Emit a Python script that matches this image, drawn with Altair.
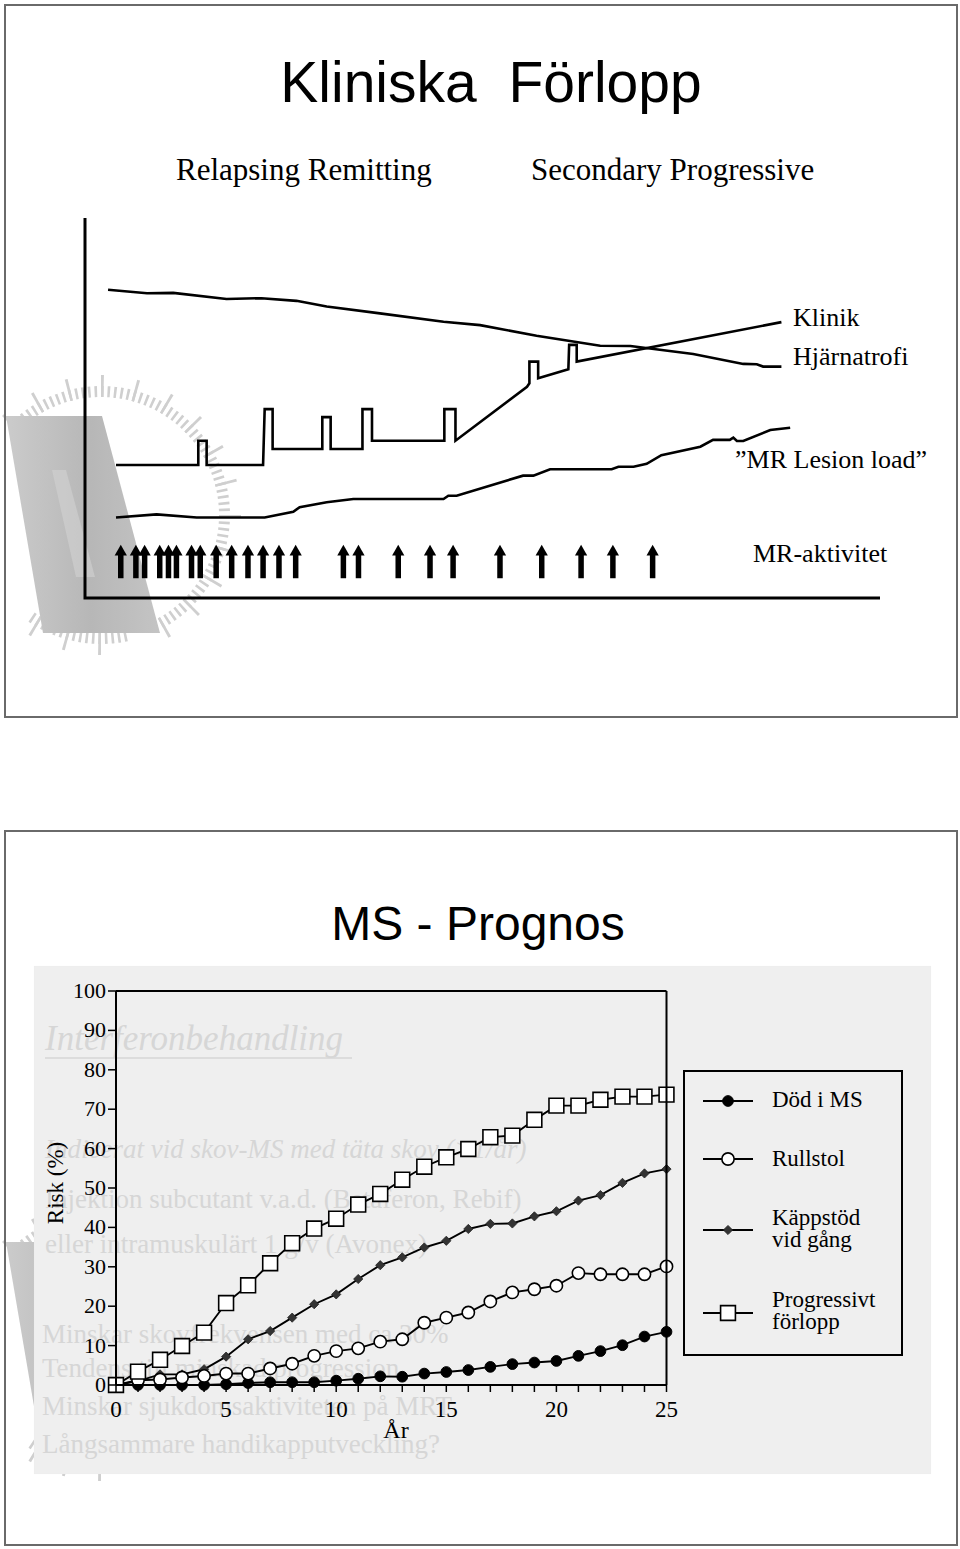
import altair as alt
import pandas as pd

W, H = 960, 1549
SERIF = "Liberation Serif"
SANS = "Liberation Sans"

# ================= DATA =================
# --- top slide: schematic course (time 0-100, level 0-100, arbitrary units) ---
atrophy_t = [2.9, 7.8, 11.1, 17.8, 22.2, 26.6, 30.4, 37.1, 45.1, 49.7, 56.8, 64.8,
             68.6, 76.5, 82.8, 84.5, 85.3, 87.6]
atrophy_level = [81.1, 80.2, 80.3, 78.7, 78.9, 78.2, 76.7, 74.9, 72.7, 71.8, 69.0, 66.4,
                 66.3, 64.2, 61.6, 61.5, 60.9, 60.9]

klinik_t = [3.9, 14.25, 14.25, 15.3, 15.3, 22.4, 22.6, 23.6, 23.6, 29.85, 29.85, 30.9,
            30.9, 34.9, 34.9, 36.1, 36.1, 45.2, 45.2, 46.6, 46.6, 55.6, 55.9, 55.9,
            57.0, 57.0, 60.8, 60.9, 61.85, 61.85, 87.6]
klinik_level = [35.0, 35.0, 41.4, 41.4, 35.0, 35.0, 49.7, 49.7, 39.2, 39.2, 47.6, 47.6,
                39.2, 39.2, 49.7, 49.7, 41.4, 41.4, 49.7, 49.7, 41.4, 55.6, 56.5, 62.2,
                62.2, 57.8, 60.2, 66.6, 66.6, 62.2, 72.6]

lesion_t = [3.9, 9.0, 14.05, 22.6, 26.2, 27.0, 30.4, 33.75, 45.1, 45.7, 46.75, 55.1,
            56.4, 58.5, 66.25, 67.1, 69.0, 70.65, 72.5, 77.4, 79.0, 81.1, 81.55, 82.0,
            82.8, 86.2, 88.7]
lesion_level = [21.2, 22.0, 21.2, 21.2, 22.7, 23.9, 25.2, 26.05, 26.05, 26.9, 26.9, 32.2,
                32.2, 33.9, 33.9, 34.55, 34.55, 35.3, 37.6, 39.8, 41.6, 41.6, 42.2, 41.3,
                41.3, 44.2, 44.8]

mr_activity_t = [4.5, 6.4, 7.5, 9.4, 10.5, 11.5, 13.4, 14.5, 16.5, 18.45, 20.5, 22.4,
                 24.4, 26.5, 32.5, 34.4, 39.4, 43.4, 46.3, 52.2, 57.45, 62.4, 66.4, 71.4]

# --- bottom slide: risk (%) by year ---
years = list(range(26))
dod_i_ms = [0, 0, 0, 0, 0, 0.2, 0.5, 0.7, 0.7, 0.7, 1.1, 1.6, 2.2, 2.1, 2.9, 3.3, 3.8,
            4.6, 5.3, 5.7, 6.1, 7.4, 8.6, 10.1, 12.3, 13.5]
rullstol = [0, 1.2, 1.4, 1.9, 2.3, 2.9, 2.9, 4.2, 5.4, 7.4, 8.6, 9.3, 11.0, 11.6, 15.8,
            17.1, 18.4, 21.2, 23.5, 24.3, 25.2, 28.4, 28.1, 28.1, 28.1, 30.1]
kappstod = [0, 1.0, 2.7, 2.7, 4.0, 7.2, 11.6, 13.7, 17.1, 20.5, 23.0, 26.9, 30.4, 32.4,
            34.9, 36.6, 39.6, 40.9, 41.0, 42.8, 44.1, 46.8, 48.2, 51.3, 53.7, 54.8]
progressivt = [0, 3.4, 6.4, 9.9, 13.3, 20.8, 25.3, 30.9, 36.0, 39.7, 42.2, 45.8, 48.5,
               52.1, 55.4, 57.8, 59.9, 62.9, 63.3, 67.3, 70.9, 70.9, 72.4, 73.2, 73.2, 73.7]
series_keys = ["dod", "rull", "kapp", "prog"]
legend_labels = ["Död i MS", "Rullstol", "Käppstöd\nvid gång", "Progressivt\n förlopp"]
x_ticks = years
x_labels = [0, 5, 10, 15, 20, 25]
y_ticks = [0, 10, 20, 30, 40, 50, 60, 70, 80, 90, 100]

# faint text of the scanned slide behind the graph
scan_lines = ["Interferonbehandling",
              "Indicerat vid skov-MS med täta skov (>1/år)",
              "Injektion subcutant v.a.d. (Betaferon, Rebif)",
              "eller intramuskulärt 1 g/v (Avonex)",
              "Minskar skovfrekvensen med ca 30%",
              "Tendens till minskad progression",
              "Minskar sjukdomsaktiviteten på MRT",
              "Långsammare handikapputveckling?"]


# ================= HELPERS =================
def one():
    return pd.DataFrame({"k": [0]})


def text(s, x, y, size, font=SERIF, color="black", align="left", italic=False,
         angle=0, line_height=0):
    props = dict(font=font, fontSize=size, color=color, align=align,
                 baseline="alphabetic")
    if italic:
        props["fontStyle"] = "italic"
    if angle:
        props["angle"] = angle
    if line_height:
        props["lineBreak"] = "\n"
        props["lineHeight"] = line_height
    return alt.Chart(pd.DataFrame({"t": [s]})).mark_text(**props).encode(
        x=alt.value(x), y=alt.value(y), text="t:N")


def rect(x0, y0, x1, y1, stroke="#5a5a5a", sw=2.0, fill=""):
    props = dict(strokeWidth=sw, stroke=stroke)
    if fill:
        props["fill"] = fill
    else:
        props["fillOpacity"] = 0
    return alt.Chart(one()).mark_rect(**props).encode(
        x=alt.value(x0), x2=alt.value(x1), y=alt.value(y0), y2=alt.value(y1))


def hrule(x0, x1, y, color="black", sw=2.0):
    return alt.Chart(one()).mark_rule(color=color, strokeWidth=sw).encode(
        x=alt.value(x0), x2=alt.value(x1), y=alt.value(y))


theta_scale = alt.Scale(domain=[0, 360], range=[0, 6.283185307179586])


def watermark(dy):
    layers = []
    short = [a for a in range(-45, 216, 3) if not (150 < a < 168)]
    long_ = [a for a in range(-45, 216, 15) if not (150 < a < 168)]
    for angles, r_out in ((short, 129), (long_, 140)):
        layers.append(
            alt.Chart(pd.DataFrame({"a0": angles}))
            .transform_calculate(a1="datum.a0 + 1.2")
            .mark_arc(innerRadius=118, outerRadius=r_out, color="#cfcfcf")
            .encode(theta=alt.Theta("a0:Q", scale=theta_scale), theta2="a1:Q",
                    x=alt.value(101), y=alt.value(515 + dy))
        )
    grad = alt.Gradient(gradient="linear",
                        stops=[alt.GradientStop(color="#cbcbcb", offset=0),
                               alt.GradientStop(color="#b7b7b7", offset=0.55),
                               alt.GradientStop(color="#c4c4c4", offset=1)],
                        x1=0, x2=1, y1=0, y2=0)
    para = pd.DataFrame({"y": [416 + dy, 633 + dy], "xl": [6, 43], "xr": [102, 160]})
    layers.append(
        alt.Chart(para).mark_area(orient="horizontal", color=grad).encode(
            y=alt.Y("y:Q", scale=None, axis=None),
            x=alt.X("xl:Q", scale=None, axis=None), x2="xr:Q"))
    strip = pd.DataFrame({"y": [470 + dy, 577 + dy], "xl": [52, 76], "xr": [66, 95]})
    layers.append(
        alt.Chart(strip).mark_area(orient="horizontal", color="#d2d2d2", opacity=0.6).encode(
            y=alt.Y("y:Q", scale=None, axis=None),
            x=alt.X("xl:Q", scale=None, axis=None), x2="xr:Q"))
    return layers


# ================= TOP SLIDE SCHEMATIC =================
sx = alt.Scale(domain=[0, 100], range=[85, 880], nice=False, zero=False)
sy = alt.Scale(domain=[0, 100], range=[598, 218], nice=False, zero=False)


def sline(t, lv, sw=2.6):
    df = pd.DataFrame({"t": t, "lv": lv, "i": list(range(len(t)))})
    return alt.Chart(df).mark_line(color="black", strokeWidth=sw, strokeJoin="miter").encode(
        x=alt.X("t:Q", scale=sx, axis=None), y=alt.Y("lv:Q", scale=sy, axis=None),
        order="i:Q")


arrows_df = pd.DataFrame({"t": mr_activity_t})
shafts = alt.Chart(arrows_df).transform_calculate(lo="5.2", hi="11.6").mark_rule(
    color="black", strokeWidth=5.5).encode(
    x=alt.X("t:Q", scale=sx, axis=None), y=alt.Y("lo:Q", scale=sy, axis=None), y2="hi:Q")
heads = alt.Chart(arrows_df).transform_calculate(h="12.6").mark_point(
    shape="triangle-up", filled=True, color="black", opacity=1, size=150).encode(
    x=alt.X("t:Q", scale=sx, axis=None), y=alt.Y("h:Q", scale=sy, axis=None))

schematic = alt.layer(
    sline([0, 0, 100], [100, 0, 0], sw=3),
    sline(atrophy_t, atrophy_level),
    sline(klinik_t, klinik_level),
    sline(lesion_t, lesion_level),
    shafts, heads,
)

# ================= BOTTOM SLIDE PLOT =================
xs = alt.Scale(domain=[0, 25], range=[116, 666.5], nice=False, zero=False)
ys = alt.Scale(domain=[0, 100], range=[1385, 991], nice=False)

plot_df = pd.DataFrame({
    "year": years * 4,
    "risk": dod_i_ms + rullstol + kappstod + progressivt,
    "serie": [k for k in series_keys for _ in years],
})
PX = alt.X("year:Q", scale=xs, axis=None)
PY = alt.Y("risk:Q", scale=ys, axis=None)

plot_lines = alt.Chart(plot_df).mark_line(color="black", strokeWidth=1.9).encode(
    PX, PY, detail="serie:N")

marker_styles = {
    "dod": dict(shape="circle", filled=True, fill="black", stroke="black", strokeWidth=1, size=115),
    "rull": dict(shape="circle", filled=True, fill="white", stroke="black", strokeWidth=1.6, size=150),
    "kapp": dict(shape="diamond", filled=True, fill="#333333", stroke="#222222", strokeWidth=0.8, size=85),
    "prog": dict(shape="square", filled=True, fill="white", stroke="black", strokeWidth=1.6, size=220),
}
plot_points = [
    alt.Chart(plot_df).transform_filter(alt.datum.serie == k)
    .mark_point(opacity=1, **marker_styles[k]).encode(PX, PY)
    for k in ["dod", "kapp", "rull", "prog"]
]

# frame (top and right) and axis lines
frame_h = alt.Chart(pd.DataFrame({"a": [0, 0], "b": [25, 25], "v": [0, 100]})) \
    .mark_rule(color="black", strokeWidth=2).encode(
    x=alt.X("a:Q", scale=xs, axis=None), x2="b:Q", y=alt.Y("v:Q", scale=ys, axis=None))
frame_v = alt.Chart(pd.DataFrame({"v": [0, 25], "a": [0, 0], "b": [100, 100]})) \
    .mark_rule(color="black", strokeWidth=2).encode(
    x=alt.X("v:Q", scale=xs, axis=None), y=alt.Y("a:Q", scale=ys, axis=None), y2="b:Q")

# hand-made axes ticks and labels (through the plot scales)
xt = pd.DataFrame({"year": x_ticks})
x_tick_marks = alt.Chart(xt).mark_rule(color="black", strokeWidth=1.5).encode(
    x=alt.X("year:Q", scale=xs, axis=None), y=alt.value(1385), y2=alt.value(1392))
x_tick_labels = alt.Chart(pd.DataFrame({"year": x_labels})).mark_text(
    font=SERIF, fontSize=23, color="black", align="center", baseline="alphabetic").encode(
    x=alt.X("year:Q", scale=xs, axis=None), y=alt.value(1417), text="year:N")
yt = pd.DataFrame({"risk": y_ticks})
y_tick_marks = alt.Chart(yt).mark_rule(color="black", strokeWidth=1.5).encode(
    y=alt.Y("risk:Q", scale=ys, axis=None), x=alt.value(108), x2=alt.value(116))
y_tick_labels = alt.Chart(yt).mark_text(
    font=SERIF, fontSize=22, color="black", align="right", baseline="middle").encode(
    y=alt.Y("risk:Q", scale=ys, axis=None), x=alt.value(106), text="risk:N")

plot = alt.layer(plot_lines, *plot_points, frame_h, frame_v,
                 x_tick_marks, x_tick_labels, y_tick_marks, y_tick_labels)

# legend (drawn by hand)
legend_rows_y = [1101, 1159, 1230, 1313]
legend_text_y = [1107, 1166, 1225, 1307]
legend_layers = [rect(684, 1071, 902, 1355, stroke="black", sw=2)]
for k, ly, lbl, ty in zip(["dod", "rull", "kapp", "prog"], legend_rows_y, legend_labels, legend_text_y):
    legend_layers.append(hrule(703, 753, ly, "black", 1.9))
    legend_layers.append(
        alt.Chart(one()).mark_point(opacity=1, **marker_styles[k]).encode(
            x=alt.value(728), y=alt.value(ly)))
    legend_layers.append(text(lbl, 772, ty, 23, line_height=22))

# ================= ASSEMBLE =================
layers = []
layers += watermark(0)
layers += watermark(826)
layers.append(rect(5, 5, 957, 717, stroke="#6a6a6a", sw=2))
layers.append(rect(5, 831, 957, 1545, stroke="#6a6a6a", sw=2))
# scanned picture background
layers.append(rect(34, 966, 931, 1474, stroke="#efefef", sw=0.1, fill="#efefef"))

scan_pos = [(45, 1050, 35, True), (45, 1158, 27, True), (45, 1208, 27, False),
            (45, 1253, 27, False), (42, 1343, 27, False), (42, 1377, 27, False),
            (42, 1415, 27, False), (42, 1453, 27, False)]
for s, (x, y, fs, it) in zip(scan_lines, scan_pos):
    layers.append(text(s, x, y, fs, color="#d6d6d6", italic=it))
layers.append(hrule(45, 352, 1058, "#d6d6d6", 1.5))

# titles and labels
layers.append(text("Kliniska\u00a0\u00a0Förlopp", 491, 102, 57, font=SANS, align="center"))
layers.append(text("Relapsing Remitting", 176, 180, 31))
layers.append(text("Secondary Progressive", 531, 180, 31))
layers.append(text("Klinik", 793, 326, 26))
layers.append(text("Hjärnatrofi", 793, 365, 26))
layers.append(text("\u201dMR Lesion load\u201d", 735, 468, 26))
layers.append(text("MR-aktivitet", 753, 562, 26))
layers.append(text("MS - Prognos", 478, 940, 48, font=SANS, align="center"))
layers.append(text("Risk (%)", 63, 1183, 23, align="center", angle=270))
layers.append(text("År", 396, 1438, 24, align="center"))

layers.append(schematic)
layers.append(plot)
layers += legend_layers

chart = (
    alt.layer(*layers)
    .resolve_scale(x="independent", y="independent")
    .properties(width=W, height=H, autosize=alt.AutoSizeParams(type="none"), padding=0)
    .configure_view(stroke="transparent")
)

chart.save("out.html", embed_options={"renderer": "svg", "actions": False})
